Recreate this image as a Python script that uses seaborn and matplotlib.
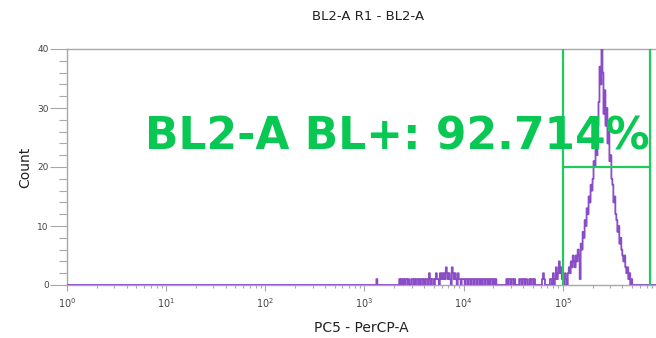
import numpy as np
import pandas as pd
import matplotlib
matplotlib.use("Agg")
import matplotlib.pyplot as plt
import seaborn as sns

# ---- data -------------------------------------------------------------
title = "BL2-A R1 - BL2-A"
x_label = "PC5 - PerCP-A"
y_label = "Count"
gate_label = "BL2-A BL+: 92.714%"

bin_step = 0.01            # log10 width of one histogram channel
log_start = 0.0            # first channel (log10)
log_end = 5.94             # last channel (log10)
events_start = 3.00        # log10 of the first listed channel below

# counts per channel, log10 3.00 .. 4.99 (rows of 0.1 decade)
noise_counts = [
    0, 0, 0, 0, 0, 0, 0, 0, 0, 0,
    0, 0, 1, 0, 0, 0, 0, 0, 0, 0,
    0, 0, 0, 0, 0, 0, 0, 0, 0, 0,
    0, 0, 0, 0, 0, 1, 0, 1, 0, 1,
    0, 1, 1, 0, 1, 0, 0, 1, 1, 0,
    1, 0, 1, 1, 0, 1, 0, 1, 1, 0,
    1, 0, 1, 1, 0, 2, 1, 0, 1, 1,
    0, 1, 2, 1, 1, 0, 2, 1, 2, 1,
    2, 1, 3, 2, 1, 2, 1, 0, 3, 2,
    1, 2, 1, 0, 2, 1, 1, 0, 1, 1,
    1, 0, 1, 1, 0, 1, 1, 0, 1, 1,
    0, 1, 1, 0, 1, 1, 0, 1, 0, 1,
    1, 0, 1, 1, 0, 1, 0, 1, 1, 0,
    1, 0, 1, 0, 0, 0, 0, 0, 0, 0,
    0, 0, 0, 1, 0, 1, 1, 0, 1, 1,
    0, 1, 0, 0, 0, 0, 1, 1, 0, 1,
    1, 0, 1, 1, 0, 0, 1, 0, 1, 1,
    0, 1, 0, 0, 0, 0, 0, 0, 0, 1,
    2, 1, 0, 0, 0, 0, 0, 1, 1, 0,
    2, 0, 1, 3, 1, 2, 4, 2, 3, 1,
]
# counts per channel, log10 5.00 .. 5.70
peak_counts = [
    1, 0, 2, 1, 0, 2, 3, 2, 4, 3,
    5, 4, 3, 5, 4, 6, 5, 1, 7, 6,
    9, 8, 11, 10, 13, 12, 15, 14, 17, 16,
    18, 21, 20, 23, 22, 27, 31, 37, 34, 40,
    36, 29, 33, 27, 30, 24, 26, 21, 22, 18,
    17, 14, 15, 12, 11, 9, 10, 7, 8, 6,
    5, 4, 5, 3, 2, 3, 1, 2, 0, 1,
    0,
]

y_ticks = [0, 10, 20, 30, 40]
y_max = 40
gate_low = 1e5
gate_high = 10 ** 5.877
gate_split = 20

# ---- build table --------------------------------------------------------
n_bins = int(round((log_end - log_start) / bin_step)) + 1
log_bins = log_start + bin_step * np.arange(n_bins)
counts = np.zeros(n_bins)
i0 = int(round((events_start - log_start) / bin_step))
listed = noise_counts + peak_counts
counts[i0:i0 + len(listed)] = listed
df = pd.DataFrame({"value": 10 ** log_bins, "count": counts})

# ---- style ---------------------------------------------------------------
sns.set_theme(style="white")
plt.rcParams["font.family"] = ["DejaVu Sans"]

purple = "#8b4dc6"
green = "#1ecb5c"
text_green = "#08c853"
axis_grey = "#a8a8a8"

fig = plt.figure(figsize=(6.56, 3.38), dpi=100)
ax = fig.add_axes([67 / 656, 1 - 285 / 338, 1 - 67 / 656, (285 - 49) / 338])

sns.lineplot(data=df, x="value", y="count", ax=ax, color=purple,
             linewidth=1.3, drawstyle="steps-post", estimator=None,
             legend=False, zorder=3)

ax.set_xscale("log")
ax.set_xlim(10 ** log_start, 10 ** log_end)
ax.set_ylim(0, y_max)

# gate
ax.axvline(gate_low, color=green, lw=1.6, zorder=4)
ax.axvline(gate_high, color=green, lw=1.6, zorder=4)
ax.plot([gate_low, gate_high], [gate_split, gate_split], color=green, lw=1.6,
        zorder=4)

# axes styling
for side in ["left", "bottom", "top"]:
    ax.spines[side].set_color(axis_grey)
    ax.spines[side].set_linewidth(1.0)
ax.spines["right"].set_visible(False)

ax.set_yticks(y_ticks)
ax.set_yticks(np.arange(0, y_max + 1, 2), minor=True)
ax.tick_params(axis="y", which="major", direction="out", length=12,
               width=0.8, color=axis_grey, labelsize=6.5, labelcolor="#444444",
               pad=1, left=True)
ax.tick_params(axis="y", which="minor", direction="out", length=6,
               width=0.8, color=axis_grey, left=True)
ax.tick_params(axis="x", which="major", direction="out", length=4,
               width=0.8, color=axis_grey, labelsize=7, labelcolor="#444444",
               pad=4, bottom=True)
ax.tick_params(axis="x", which="minor", direction="out", length=2.5,
               width=0.8, color=axis_grey, bottom=True)
ax.set_xticks([10 ** k for k in range(0, 6)])

ax.set_xlabel(x_label, fontsize=10, color="#222222", labelpad=8)
ax.set_ylabel(y_label, fontsize=10, color="#222222", labelpad=4)
fig.text(368 / 656, 1 - 17 / 338, title, ha="center", va="center",
         fontsize=9.5, color="#222222")

ax.text(145 / 656, 1 - 137 / 338, gate_label, transform=fig.transFigure,
        ha="left", va="center", fontsize=31.7, fontweight="bold",
        color=text_green, zorder=5)

fig.savefig("out.png", dpi=100)
